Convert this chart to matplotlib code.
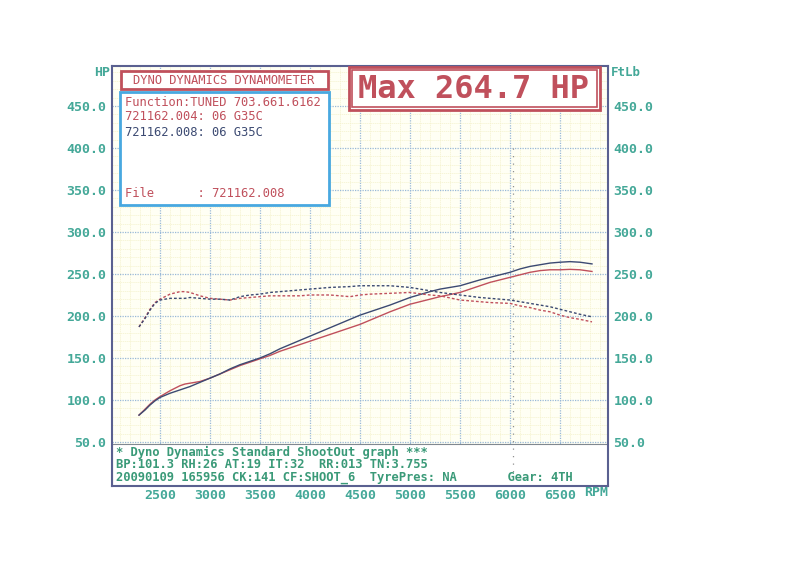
import matplotlib
matplotlib.use('Agg')
import matplotlib.pyplot as plt
from matplotlib.patches import Rectangle

# dyno run data
rpm = [2290, 2350, 2400, 2450, 2500, 2600, 2700, 2750, 2800, 2900, 3000, 3100,
       3200, 3300, 3400, 3500, 3600, 3700, 3800, 3900, 4000, 4200, 4400, 4500,
       4600, 4800, 5000, 5200, 5300, 5500, 5700, 5800, 6000, 6100, 6200, 6300,
       6400, 6500, 6600, 6700, 6820]
hp_004 = [82, 89, 95, 100, 104, 111, 117, 119, 120, 122, 126, 131,
          136, 141, 145, 149, 153, 158, 162, 166, 170, 178, 186, 190,
          195, 205, 214, 220, 223, 228, 236, 240, 246, 249, 252, 254,
          255, 255, 255.5, 255, 253]
hp_008 = [82, 88, 94, 99, 103, 108, 112, 114, 116, 121, 126, 131,
          137, 142, 146, 150, 155, 161, 166, 171, 176, 186, 196, 201,
          205, 213, 222, 229, 232, 236, 243, 246, 252, 256, 259, 261,
          263, 264, 264.7, 264, 262]
tq_004 = [187, 198, 208, 216, 220, 226, 229, 229, 228, 224, 221, 220,
          219, 221, 222, 223, 224, 224, 224, 224, 225, 225, 223, 225,
          226, 227, 228, 225, 224, 219, 217, 216, 215, 212, 210, 207,
          205, 201, 198, 196, 193]
tq_008 = [187, 197, 207, 215, 219, 221, 221, 221, 222, 221, 220, 220,
          219, 223, 225, 226, 228, 229, 230, 231, 232, 234, 235, 236,
          236, 236, 234, 230, 228, 225, 222, 221, 219, 217, 215, 213,
          211, 208, 205, 202, 199]

x_ticks = [2500, 3000, 3500, 4000, 4500, 5000, 5500, 6000, 6500]
y_ticks = [50, 100, 150, 200, 250, 300, 350, 400, 450]

footer_lines = [
    '* Dyno Dynamics Standard ShootOut graph ***',
    'BP:101.3 RH:26 AT:19 IT:32  RR:013 TN:3.755',
    '20090109 165956 CK:141 CF:SHOOT_6  TyrePres: NA       Gear: 4TH',
]

RED = '#c0505c'
BLUE = '#3c4a72'
TEAL = '#44a898'
FOOT = '#3a9a78'
MONO = 'DejaVu Sans Mono'

W, H = 800, 582

def fx(x):
    return x / W

def fy(y):
    return 1 - y / H

fig = plt.figure(figsize=(8, 5.82), dpi=100)
fig.patch.set_facecolor('white')
ax = fig.add_axes([fx(112), fy(486), (608 - 112) / W, (486 - 66) / H])
ax.set_facecolor('#fffff4')
ax.set_xlim(2020, 6980)
ax.set_ylim(-2.4, 497.6)

# grids: faint yellow minor, dotted blue major
ax.set_xticks(x_ticks)
ax.set_yticks(y_ticks)
ax.set_xticks(range(2100, 6980, 100), minor=True)
ax.set_yticks(range(0, 498, 10), minor=True)
ax.grid(which='minor', color='#f4f2cc', lw=0.5, ls=(0, (2, 1)))
ax.grid(which='major', color='#98b8d8', lw=0.9, ls=(0, (1, 1)))
ax.tick_params(which='both', length=0)
ax.tick_params(axis='y', labelleft=True, labelright=True, colors=TEAL,
               labelsize=9.5, pad=4)
ax.tick_params(axis='x', colors=TEAL, labelsize=9.5, pad=2)
ax.set_yticklabels(['%.1f' % v for v in y_ticks], family=MONO, weight='bold')
ax.set_xticklabels([str(v) for v in x_ticks], family=MONO, weight='bold')
for s in ax.spines.values():
    s.set_color('#5a6090')
    s.set_linewidth(1.5)

# footer panel
ax.add_patch(Rectangle((2020, -2.4), 4960, 50.0, facecolor='white',
                       edgecolor='#808890', lw=0.8, zorder=2))

# curves
ax.plot(rpm, hp_004, color=RED, lw=1.0, zorder=4)
ax.plot(rpm, hp_008, color=BLUE, lw=1.0, zorder=4)
ax.plot(rpm, tq_004, color=RED, lw=1.0, ls=(0, (2, 1.5)), zorder=4)
ax.plot(rpm, tq_008, color=BLUE, lw=1.0, ls=(0, (2, 1.5)), zorder=4)
ax.plot([6030, 6030], [400, -2.4], color='#909090', lw=0.9,
        ls=(0, (1, 5)), zorder=3)

# footer text
for i, line in enumerate(footer_lines):
    fig.text(fx(116), fy(452 + i * 13), line, color=FOOT, family=MONO,
             fontsize=8.7, weight='bold', va='center', ha='left')

# axis captions
fig.text(fx(94), fy(72), 'HP', color=TEAL, family=MONO, fontsize=9.5,
         weight='bold', va='center', ha='left')
fig.text(fx(611), fy(72), 'FtLb', color=TEAL, family=MONO, fontsize=9,
         weight='bold', va='center', ha='left')
fig.text(fx(584), fy(493), 'RPM', color=TEAL, family=MONO, fontsize=9.5,
         weight='bold', va='center', ha='left')

# legend boxes
fig.patches.append(Rectangle((fx(121), fy(89)), (328 - 121) / W, (89 - 71) / H,
                             transform=fig.transFigure, facecolor='white',
                             edgecolor=RED, lw=2.0, zorder=5))
fig.text(fx(224), fy(80), 'DYNO DYNAMICS DYNAMOMETER', color=RED, family=MONO,
         fontsize=8.7, va='center', ha='center', zorder=6)
fig.patches.append(Rectangle((fx(120), fy(205)), (329 - 120) / W, (205 - 92) / H,
                             transform=fig.transFigure, facecolor='white',
                             edgecolor='#48a8e0', lw=2.0, zorder=5))
legend_rows = [
    ('Function:TUNED 703.661.6162', RED, 102),
    ('721162.004: 06 G35C', RED, 117),
    ('721162.008: 06 G35C', BLUE, 132),
    ('File      : 721162.008', RED, 194),
]
for txt, col, yy in legend_rows:
    fig.text(fx(125), fy(yy), txt, color=col, family=MONO, fontsize=8.7,
             va='center', ha='left', zorder=6)

# max power box
fig.patches.append(Rectangle((fx(349), fy(110)), (600 - 349) / W, (110 - 67) / H,
                             transform=fig.transFigure, facecolor='white',
                             edgecolor=RED, lw=2.0, zorder=5))
fig.patches.append(Rectangle((fx(352), fy(107)), (597 - 352) / W, (107 - 70) / H,
                             transform=fig.transFigure, facecolor='none',
                             edgecolor=RED, lw=1.2, zorder=5))
fig.text(fx(474), fy(89), 'Max %.1f HP' % max(hp_008), color=RED, family=MONO,
         fontsize=23, weight='bold', va='center', ha='center', zorder=6)

fig.savefig('out.png', dpi=100)
